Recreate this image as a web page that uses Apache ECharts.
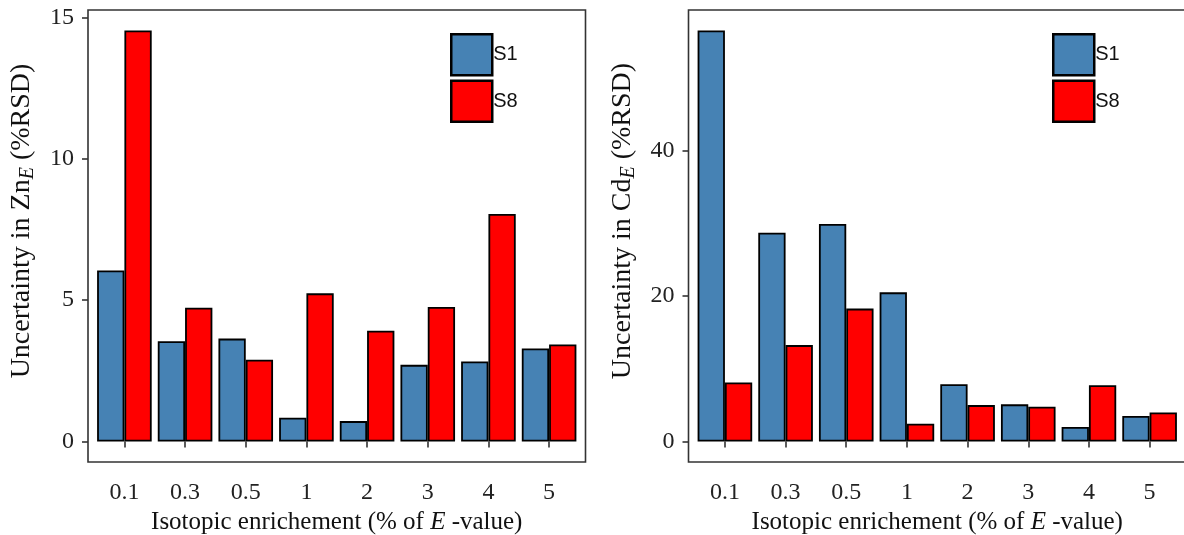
<!DOCTYPE html>
<html>
<head>
<meta charset="utf-8">
<script src="https://cdn.jsdelivr.net/npm/echarts@6/dist/echarts.min.js"></script>
<style>
  html, body { margin: 0; padding: 0; background: #fff; }
  #chart { width: 1184px; height: 535px; }
</style>
</head>
<body>
<div id="chart"></div>
<script>
// Isotopic enrichment levels (% of E-value)
const categories = ['0.1', '0.3', '0.5', '1', '2', '3', '4', '5'];

// Uncertainty in Zn_E (%RSD)
const znS1 = [6.05, 3.55, 3.64, 0.84, 0.72, 2.71, 2.83, 3.29];
const znS8 = [14.54, 4.73, 2.89, 5.24, 3.92, 4.76, 8.05, 3.43];

// Uncertainty in Cd_E (%RSD)
const cdS1 = [56.5, 28.7, 29.9, 20.5, 7.87, 5.1, 2.0, 3.5];
const cdS8 = [8.1, 13.25, 18.27, 2.44, 5.0, 4.78, 7.73, 3.98];

// Y tick labels
const znTicks = [0, 5, 10, 15];
const cdTicks = [0, 20, 40];

const seriesNames = ['S1', 'S8'];
const colors = ['#4682B4', '#FF0000'];

// Panel frames: the plot box spans the categories plus 0.6 category of padding on each side
const FRAME_TOP = 10, FRAME_H = 452, FRAME_W = 497.5;
const frames = [
  { x: 88, legendLeft: 450 },
  { x: 688.5, legendLeft: 1052 }
];
// each category band already carries 0.5 of padding, so 0.1 more on each side
const band = FRAME_W / (categories.length + 0.2);

const serif = "'Liberation Serif', 'DejaVu Serif', serif";
const sans = "'Liberation Sans', Arial, sans-serif";

function range(vals) {
  const mx = Math.max(...vals);
  return { min: -0.05 * mx, max: 1.05 * mx };
}

const panels = [
  { s1: znS1, s8: znS8, ticks: znTicks, elem: 'Zn' },
  { s1: cdS1, s8: cdS8, ticks: cdTicks, elem: 'Cd' }
];

const grid = [], xAxis = [], yAxis = [], series = [], legend = [], graphic = [];

panels.forEach((p, i) => {
  const f = frames[i];
  const pad = band * 0.1;
  grid.push({
    left: f.x + pad,
    top: FRAME_TOP,
    width: band * categories.length,
    height: FRAME_H,
    containLabel: false,
    outerBoundsMode: 'none'
  });
  graphic.push({
    type: 'rect',
    shape: { x: f.x, y: FRAME_TOP, width: FRAME_W, height: FRAME_H },
    style: { fill: 'none', stroke: '#333', lineWidth: 1.6 },
    z: 10
  });
  const r = range(p.s1.concat(p.s8));
  xAxis.push({
    type: 'category',
    gridIndex: i,
    data: categories,
    boundaryGap: true,
    axisLine: { show: false },
    axisTick: { show: true, alignWithLabel: true, length: 6, lineStyle: { color: '#333', width: 1.6 } },
    axisLabel: { color: '#222', fontFamily: serif, fontSize: 24, margin: 19 },
    name: 'Isotopic enrichement (% of {it|E} -value)',
    nameLocation: 'middle',
    nameGap: 44,
    nameTextStyle: {
      color: '#111', fontFamily: serif, fontSize: 25,
      rich: { it: { fontFamily: serif, fontSize: 25, fontStyle: 'italic', color: '#111' } }
    }
  });
  yAxis.push({
    type: 'value',
    gridIndex: i,
    min: r.min,
    max: r.max,
    offset: pad,
    splitLine: { show: false },
    axisLine: { show: false },
    axisTick: { show: true, length: 6, customValues: p.ticks, lineStyle: { color: '#333', width: 1.6 } },
    axisLabel: { color: '#222', fontFamily: serif, fontSize: 24, margin: 14, customValues: p.ticks },
    name: 'Uncertainty in ' + p.elem + '{sub|E} (%RSD)',
    nameLocation: 'middle',
    nameRotate: 90,
    nameGap: 50,
    nameTextStyle: {
      color: '#111', fontFamily: serif, fontSize: 28,
      padding: [0, 0, 0, 30],
      rich: { sub: { fontFamily: serif, fontSize: 20, fontStyle: 'italic', color: '#111', verticalAlign: 'bottom', padding: [12, 0, 0, 0] } }
    }
  });
  [p.s1, p.s8].forEach((vals, k) => {
    series.push({
      type: 'bar',
      name: seriesNames[k],
      xAxisIndex: i,
      yAxisIndex: i,
      data: vals,
      barWidth: '45%',
      barGap: '0%',
      itemStyle: { color: colors[k], borderColor: '#000', borderWidth: 1.8 },
      emphasis: { disabled: true },
      animation: false
    });
  });
  legend.push({
    orient: 'vertical',
    left: f.legendLeft,
    top: 33,
    itemWidth: 41,
    itemHeight: 41,
    itemGap: 3,
    padding: 0,
    icon: 'rect',
    data: seriesNames,
    itemStyle: { borderColor: '#000', borderWidth: 2.5 },
    textStyle: { fontFamily: sans, fontSize: 20, color: '#111', padding: [3, 0, 0, -4] },
    selectedMode: false
  });
});

const chart = echarts.init(document.getElementById('chart'), null, { renderer: 'canvas' });
chart.setOption({
  backgroundColor: '#fff',
  animation: false,
  grid, xAxis, yAxis, series, legend, graphic
});
</script>
</body>
</html>
